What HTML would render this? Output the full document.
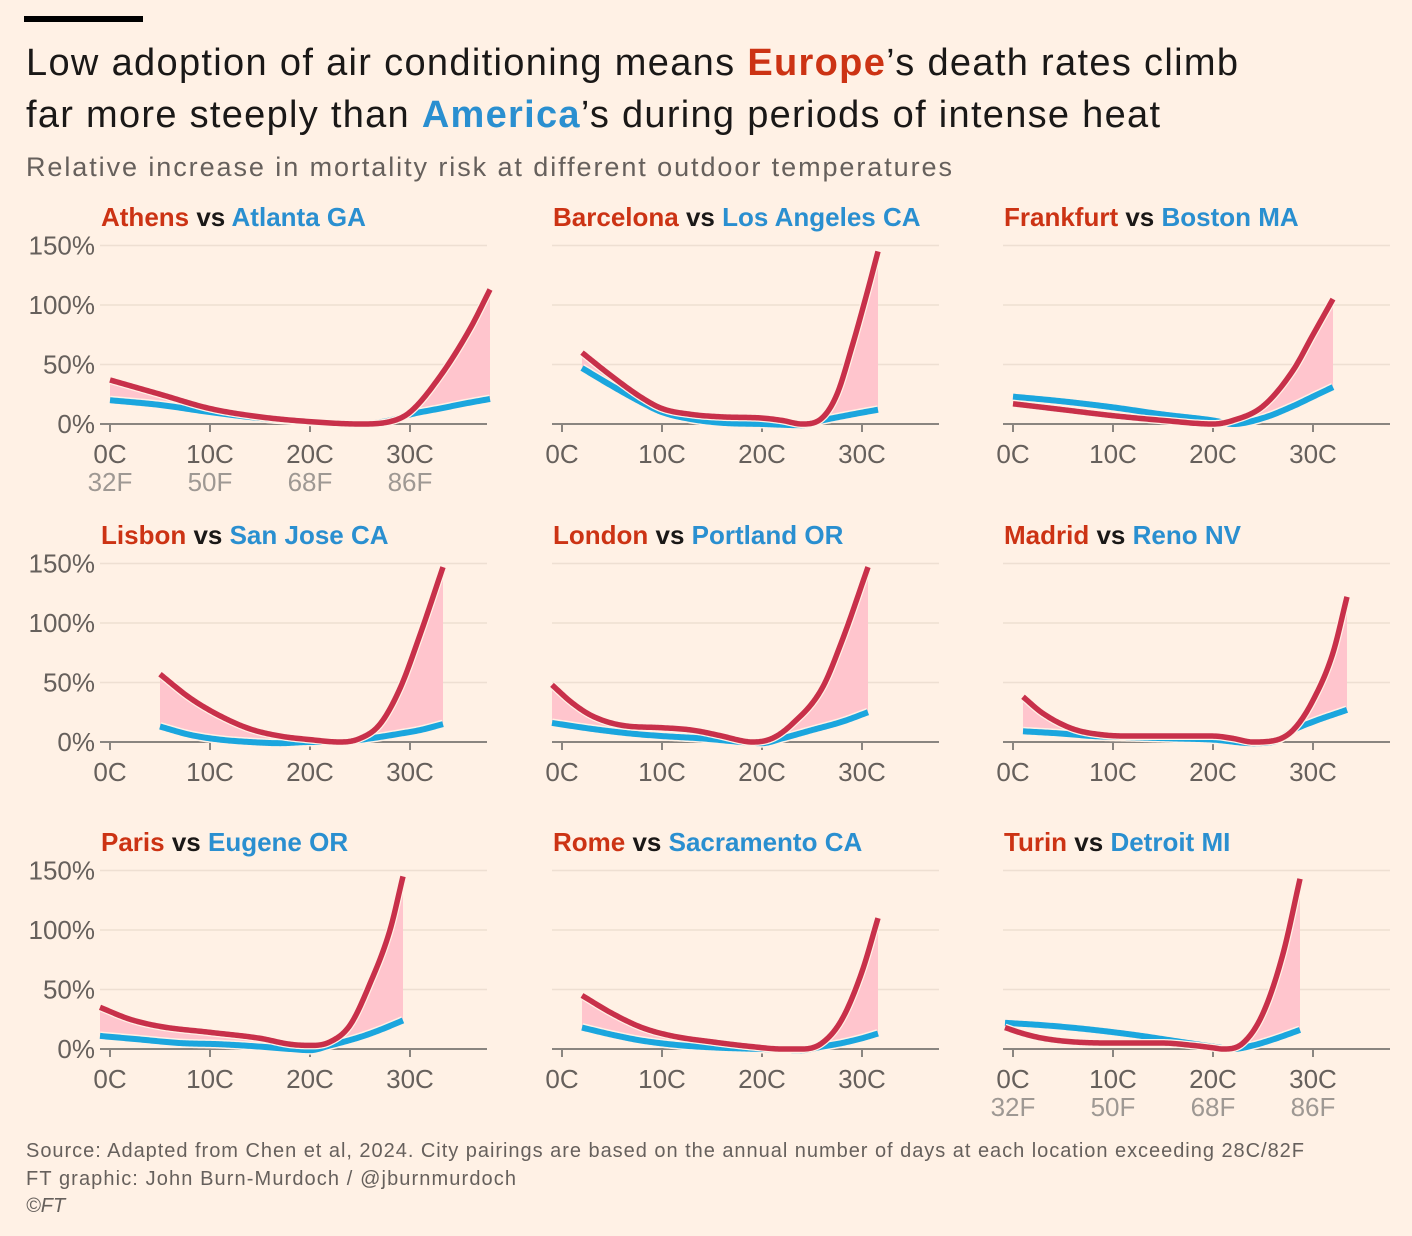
<!DOCTYPE html>
<html><head><meta charset="utf-8"><style>
html,body{margin:0;padding:0;background:#fff1e5;}
svg{display:block;font-family:"Liberation Sans",sans-serif;}
</style></head><body>
<svg id="chart" width="1412" height="1236" viewBox="0 0 1412 1236" xmlns="http://www.w3.org/2000/svg">
<rect width="1412" height="1236" fill="#fff1e5"/>
<rect x="24" y="16" width="119" height="6" fill="#000"/>
<text x="26" y="75" font-size="38" fill="#1a1817" textLength="1212">Low adoption of air conditioning means <tspan fill="#cc3314" font-weight="bold">Europe</tspan>’s death rates climb</text>
<text x="26" y="127" font-size="38" fill="#1a1817" textLength="1134">far more steeply than <tspan fill="#2a8fd0" font-weight="bold">America</tspan>’s during periods of intense heat</text>
<text x="26" y="176" font-size="27" fill="#66605c" textLength="926">Relative increase in mortality risk at different outdoor temperatures</text>
<g id="panels"></g>
<text x="26" y="1157" font-size="20" fill="#66605c" textLength="1278">Source: Adapted from Chen et al, 2024. City pairings are based on the annual number of days at each location exceeding 28C/82F</text>
<text x="26" y="1185" font-size="20" fill="#66605c" textLength="490">FT graphic: John Burn-Murdoch / @jburnmurdoch</text>
<text x="26" y="1212" font-size="20" fill="#66605c" font-style="italic">©FT</text>
</svg>
<script>
const euCities = ["Athens","Barcelona","Frankfurt","Lisbon","London","Madrid","Paris","Rome","Turin"];
const usCities = ["Atlanta GA","Los Angeles CA","Boston MA","San Jose CA","Portland OR","Reno NV","Eugene OR","Sacramento CA","Detroit MI"];
const yTicks = [0,50,100,150];
const yTickLabels = ["0%","50%","100%","150%"];
const xTicks = [0,10,20,30];
const xTickLabelsC = ["0C","10C","20C","30C"];
const xTickLabelsF = ["32F","50F","68F","86F"];
// [temperature C, % increase]
const euSeries = [
 [[0,37],[5,25],[10,13],[15,6],[20,2],[25,0],[28,2],[30,10],[33,40],[36,80],[38,113]],
 [[2,60],[5,40],[8,22],[10,13],[13,8],[16,6],[20,5],[22,3],[24,0],[26,5],[27.5,25],[29,65],[30.5,110],[31.6,145]],
 [[0,17],[5,12],[10,7],[15,3],[20,0],[22,3],[25,15],[28,45],[30,75],[32,105]],
 [[5,57],[8,37],[11,22],[14,11],[17,5],[20,2],[23,0],[25,3],[27,15],[29,45],[31,90],[33.3,147]],
 [[-1,48],[1,33],[3,22],[6,14],[10,12],[13,10],[16,5],[18,1],[19,0],[21,3],[23,15],[26,45],[28,85],[30.6,147]],
 [[1,38],[3,24],[6,11],[9,6],[12,5],[16,5],[20,5],[22,3],[24,0],[26,1],[28,10],[30,35],[32,75],[33.4,122]],
 [[-1,35],[2,25],[5,19],[10,14],[15,9],[18,4],[20,3],[22,6],[24,20],[26,55],[28,100],[29.3,145]],
 [[2,45],[5,30],[8,18],[11,11],[15,6],[19,2],[22,0],[24,0],[26,5],[28,25],[30,65],[31.6,110]],
 [[-0.8,18],[1,13],[3,9],[6,6],[10,5],[15,5],[18,3],[20,1],[21,0],[23,5],[25,30],[27,80],[28.7,143]]
];
const usSeries = [
 [[0,20],[5,16],[10,10],[15,5],[20,2],[25,0],[28,3],[30,8],[33,13],[36,18],[38,21]],
 [[2,47],[5,32],[8,18],[10,10],[13,4],[16,1],[20,0],[24,-1],[26,3],[29,8],[31.6,12]],
 [[0,23],[5,19],[10,14],[15,8],[20,3],[22,0],[25,5],[28,15],[30,23],[32,31]],
 [[5,13],[8,6],[11,2],[14,0],[17,-1],[20,0],[23,0],[26,3],[29,7],[31,10],[33.3,15]],
 [[-1,16],[3,11],[7,7],[10,5],[14,3],[18,0],[20,-1],[22,3],[25,10],[28,17],[30.6,25]],
 [[1,9],[5,7],[8,5],[12,4],[16,3],[20,2],[24,-1],[26,0],[28,10],[30,17],[33.4,27]],
 [[-1,11],[3,8],[7,5],[11,4],[15,2],[18,0],[20,-1],[22,3],[25,10],[27,16],[29.3,24]],
 [[2,18],[5,12],[8,7],[12,3],[16,1],[20,0],[24,-1],[26,2],[28,5],[30,9],[31.6,13]],
 [[-0.8,22],[3,20],[7,17],[12,12],[16,7],[20,2],[22,0],[24,3],[26,8],[28.7,16]]
];
const NS="http://www.w3.org/2000/svg";
const root=document.getElementById('panels');
function mk(tag,attrs,parent){const e=document.createElementNS(NS,tag);for(const k in attrs)e.setAttribute(k,attrs[k]);(parent||root).appendChild(e);return e;}
function interp(pts){ // monotone cubic
 const n=pts.length,xs=pts.map(p=>p[0]),ys=pts.map(p=>p[1]);
 const d=[],m=[];
 for(let i=0;i<n-1;i++)d.push((ys[i+1]-ys[i])/(xs[i+1]-xs[i]));
 m[0]=d[0];m[n-1]=d[n-2];
 for(let i=1;i<n-1;i++){m[i]=(d[i-1]*d[i]<=0)?0:(d[i-1]+d[i])/2;}
 for(let i=0;i<n-1;i++){if(d[i]===0){m[i]=0;m[i+1]=0;continue;}const a=m[i]/d[i],b=m[i+1]/d[i],s=a*a+b*b;if(s>9){const t=3/Math.sqrt(s);m[i]=t*a*d[i];m[i+1]=t*b*d[i];}}
 return function(x){let i=0;while(i<n-2&&x>xs[i+1])i++;const h=xs[i+1]-xs[i],t=(x-xs[i])/h,t2=t*t,t3=t2*t;
  return (2*t3-3*t2+1)*ys[i]+(t3-2*t2+t)*h*m[i]+(-2*t3+3*t2)*ys[i+1]+(t3-t2)*h*m[i+1];};
}
const colX0=[110,562,1013], rowY0=[424,742,1049];
for(let p=0;p<9;p++){
 const c=p%3,r=Math.floor(p/3);
 const X=t=>colX0[c]+t*10, Y=v=>rowY0[r]-v*1.19;
 const g=mk('g',{});
 
 
 yTicks.forEach((v,i)=>{
  const l=mk('line',{x1:X(-1),x2:X(37.7),y1:Y(v),y2:Y(v),stroke:v===0?'#8a8580':'#eedfd2','stroke-width':v===0?2:1.5},g);
  
  
  if(c===0){const t=mk('text',{x:95,y:Y(v)+9,'font-size':26,fill:'#66605c','text-anchor':'end'},g);t.textContent=yTickLabels[i];
   }
 });
 xTicks.forEach((v,i)=>{
  const tk=mk('line',{x1:X(v),x2:X(v),y1:Y(0),y2:Y(0)+8,stroke:'#8a8580','stroke-width':2},g);
  
  const t=mk('text',{x:X(v),y:Y(0)+39,'font-size':26,fill:'#66605c','text-anchor':'middle'},g);t.textContent=xTickLabelsC[i];
  
  if((p===0)||(p===8)){const f=mk('text',{x:X(v),y:Y(0)+67,'font-size':26,fill:'#9e9893','text-anchor':'middle'},g);f.textContent=xTickLabelsF[i];
   }
 });
 const tt=mk('text',{x:colX0[c]-9,y:Y(0)-198,'font-size':26,'font-weight':'bold',fill:'#1a1817'},g);
 tt.innerHTML='<tspan fill="#cc3314">'+euCities[p]+'</tspan> vs <tspan fill="#2a8fd0">'+usCities[p]+'</tspan>';
 
 const eu=euSeries[p],us=usSeries[p];
 const fe=interp(eu),fu=interp(us);
 const lo=Math.max(eu[0][0],us[0][0]),hi=Math.min(eu[eu.length-1][0],us[us.length-1][0]);
 const N=200,top=[],bot=[],rl=[],bl=[];
 for(let k=0;k<=N;k++){const t=lo+(hi-lo)*k/N,a=fe(t),b=fu(t);top.push(X(t)+','+Y(a));bot.push(X(t)+','+Y(Math.min(a,b)));}
 const e0=eu[0][0],e1=eu[eu.length-1][0],u0=us[0][0],u1=us[us.length-1][0];
 for(let k=0;k<=N;k++){const t=e0+(e1-e0)*k/N;rl.push(X(t)+','+Y(fe(t)));}
 for(let k=0;k<=N;k++){const t=u0+(u1-u0)*k/N;bl.push(X(t)+','+Y(fu(t)));}
 const area=mk('polygon',{points:top.concat(bot.reverse()).join(' '),fill:'#ffc5cd'},g);
 
 const bw=mk('polyline',{points:bl.join(' '),fill:'none',stroke:'#fff1e5','stroke-width':9,'stroke-linejoin':'round'},g);
 
 const bline=mk('polyline',{points:bl.join(' '),fill:'none',stroke:'#1ba6de','stroke-width':6,'stroke-linejoin':'round'},g);
 
 const rw=mk('polyline',{points:rl.join(' '),fill:'none',stroke:'#fff1e5','stroke-width':8,'stroke-linejoin':'round'},g);
 
 const rline=mk('polyline',{points:rl.join(' '),fill:'none',stroke:'#c8304a','stroke-width':5.5,'stroke-linejoin':'round'},g);
 
}
</script>
</body></html>
